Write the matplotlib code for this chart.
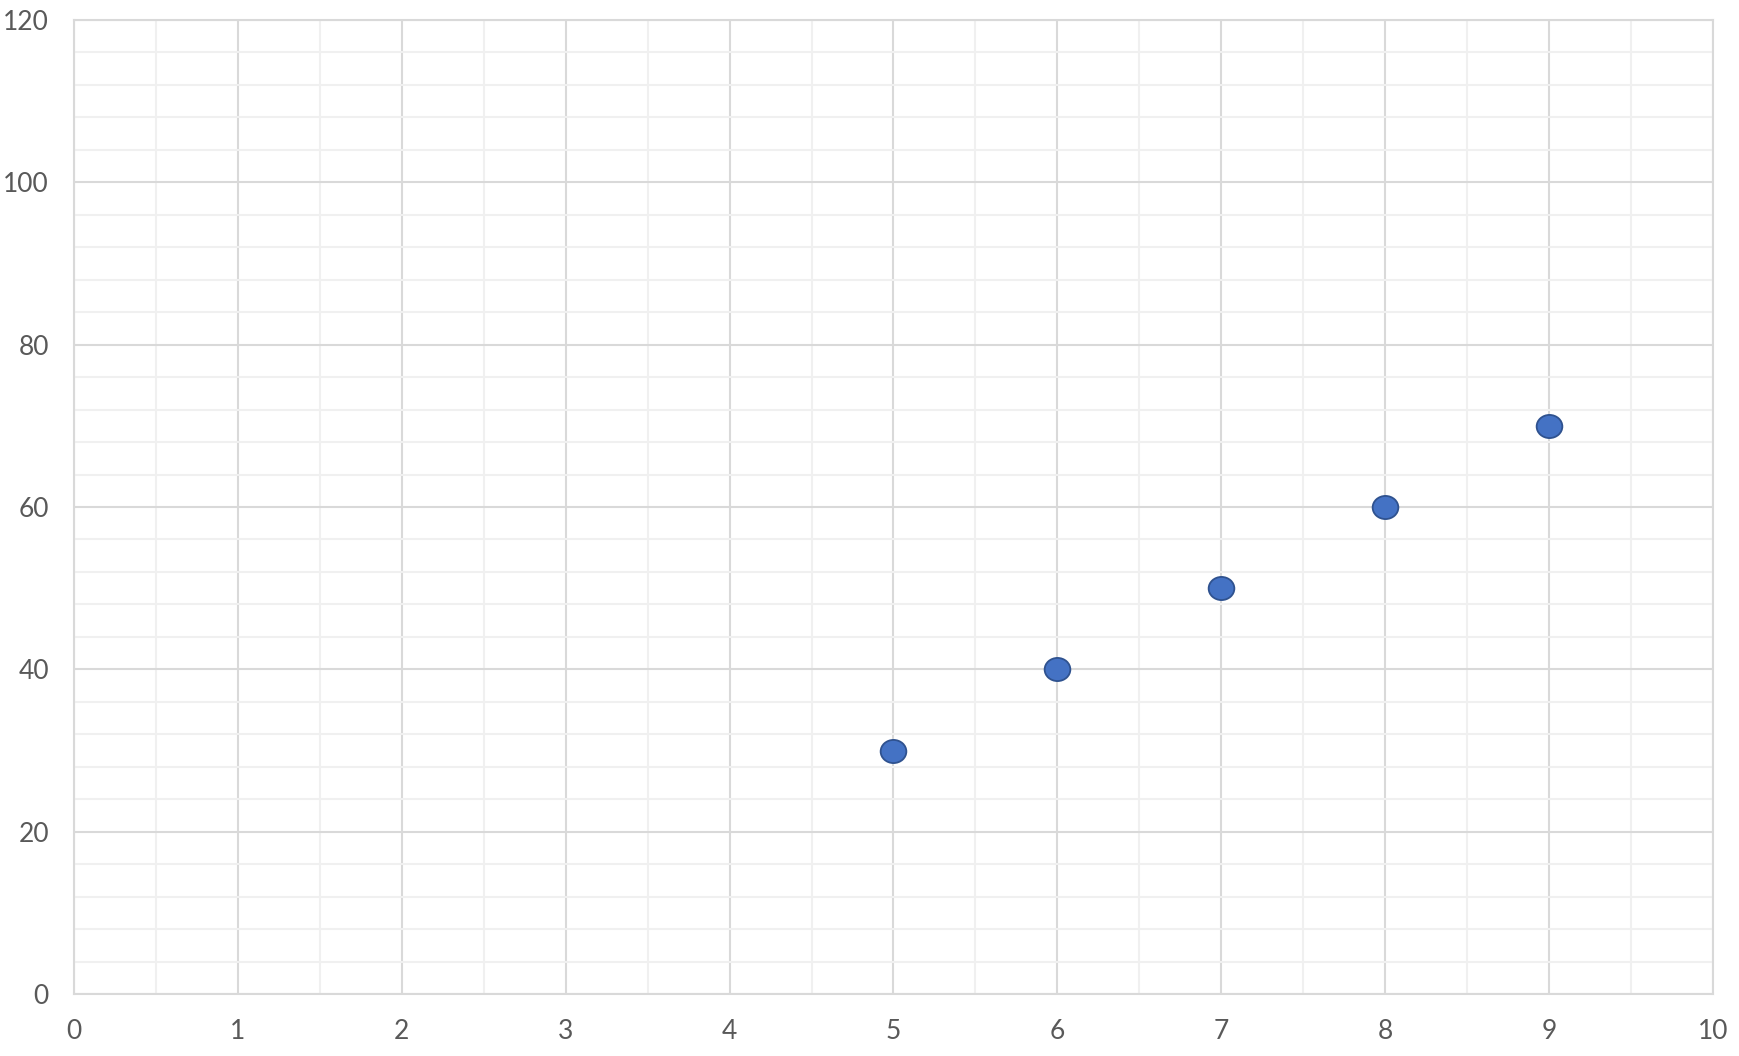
import matplotlib
matplotlib.use("Agg")
import matplotlib.pyplot as plt
from matplotlib.ticker import MultipleLocator
from matplotlib.path import Path
from matplotlib.transforms import Affine2D

x_values = [5, 6, 7, 8, 9]
y_values = [30, 40, 50, 60, 70]
x_ticks = [0, 1, 2, 3, 4, 5, 6, 7, 8, 9, 10]
y_ticks = [0, 20, 40, 60, 80, 100, 120]

plt.rcParams['font.family'] = ['Lato', 'DejaVu Sans']

fig = plt.figure(figsize=(17.4, 10.56), dpi=100)
ax = fig.add_axes([74/1740, 1 - 994/1056, (1713 - 74)/1740, (994 - 20)/1056])

ax.set_xlim(0, 10)
ax.set_ylim(0, 120)
ax.set_xticks(x_ticks)
ax.set_yticks(y_ticks)
ax.xaxis.set_minor_locator(MultipleLocator(0.5))
ax.yaxis.set_minor_locator(MultipleLocator(4))
ax.grid(which='major', color='#d9d9d9', linewidth=1.5, zorder=0)
ax.grid(which='minor', color='#f0f0f0', linewidth=1.5, zorder=0)
ax.set_axisbelow(True)
for s in ax.spines.values():
    s.set_color('#d9d9d9')
    s.set_linewidth(1.5)
ax.tick_params(which='both', length=0)
ax.tick_params(axis='x', pad=18, labelsize=19, labelcolor='#595959')
ax.tick_params(axis='y', pad=18, labelsize=19, labelcolor='#595959')

ellipse = Affine2D().scale(1.0, 0.9).transform_path(Path.unit_circle())

ax.plot(x_values, y_values, linestyle='none', marker=ellipse, markersize=18.5,
        markerfacecolor='#4472C4', markeredgecolor='#2F528F', markeredgewidth=1.3,
        clip_on=False, zorder=3)

fig.savefig('out.png', dpi=100)
